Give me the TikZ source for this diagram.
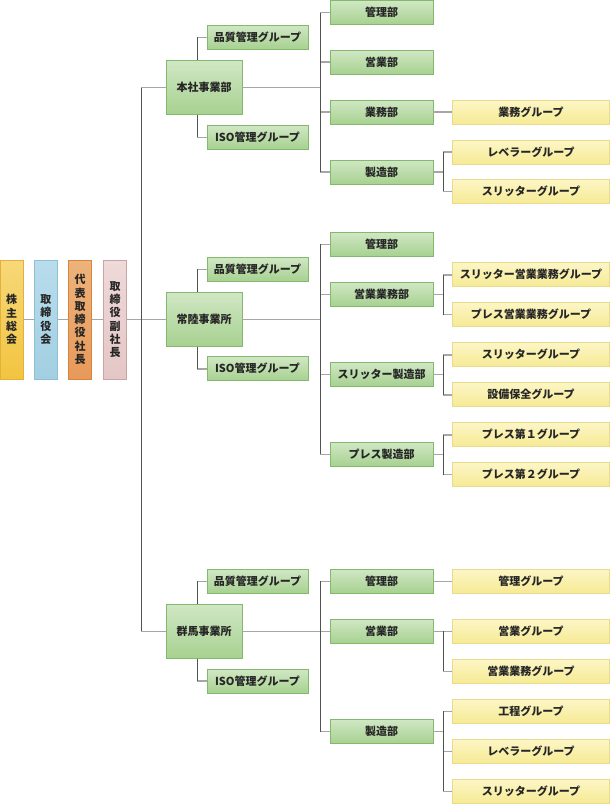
\documentclass[tikz,border=0pt]{standalone}
\usepackage{fontspec}
\setmainfont{Noto Sans CJK JP}
\definecolor{grnTop}{HTML}{D0E7C4}
\definecolor{grnBot}{HTML}{A7D190}
\definecolor{grnEdge}{HTML}{82B96C}
\definecolor{yelTop}{HTML}{FCF6C6}
\definecolor{yelBot}{HTML}{F6EA94}
\definecolor{yelEdge}{HTML}{E8DB8E}
\definecolor{kabuTop}{HTML}{F7D878}
\definecolor{kabuBot}{HTML}{F2C440}
\definecolor{kabuEdge}{HTML}{E3B03A}
\definecolor{torTop}{HTML}{B8DDEC}
\definecolor{torBot}{HTML}{A2CFE2}
\definecolor{torEdge}{HTML}{8DC0D6}
\definecolor{daiTop}{HTML}{EEB37A}
\definecolor{daiBot}{HTML}{E8995A}
\definecolor{daiEdge}{HTML}{D5843E}
\definecolor{fukuTop}{HTML}{EFD9D9}
\definecolor{fukuBot}{HTML}{E4C6C6}
\definecolor{fukuEdge}{HTML}{C9A4A4}
\begin{document}
\begin{tikzpicture}[x=1pt, y=-1pt,
    every node/.style={font=\fontsize{11}{13}\selectfont\bfseries, text=black!85, inner sep=0pt},
    hline/.style={draw=black!35, line width=1.6pt},
    vline/.style={draw=black!68, line width=0.9pt},
    greenbox/.style={draw=grnEdge, line width=0.8pt, top color=grnTop, bottom color=grnBot},
    sitebox/.style={greenbox, minimum width=76pt, minimum height=54pt},
    deptbox/.style={greenbox, minimum width=103pt, minimum height=24pt},
    qabox/.style={greenbox, minimum width=101pt, minimum height=24pt},
    grpbox/.style={draw=yelEdge, line width=0.8pt, top color=yelTop, bottom color=yelBot,
        minimum width=157pt, minimum height=24pt},
    topbox/.style={line width=0.8pt, minimum width=23pt, minimum height=119pt, align=center,
        font=\fontsize{11}{13.3}\selectfont\bfseries}]
    \useasboundingbox (0,0) rectangle (611,804);

    % top management (vertical text)
    \node[topbox, draw=kabuEdge, top color=kabuTop, bottom color=kabuBot] (kabu) at (11.7,319.5) {株\\主\\総\\会};
    \node[topbox, draw=torEdge, top color=torTop, bottom color=torBot] (torishimari) at (45.8,319.5) {取\\締\\役\\会};
    \node[topbox, draw=daiEdge, top color=daiTop, bottom color=daiBot] (daihyo) at (80,319.5) {代\\表\\取\\締\\役\\社\\長};
    \node[topbox, draw=fukuEdge, top color=fukuTop, bottom color=fukuBot] (fuku) at (115,319.5) {取\\締\\役\\副\\社\\長};

    % bus lines
    \coordinate (trunk) at (141,0);
    \coordinate (gbus) at (197,0);
    \coordinate (dbus) at (320,0);
    \coordinate (sbus) at (443,0);

    % 本社事業部
    \node[sitebox] (honsha) at (204,87.5) {本社事業部};
    \node[qabox] (qaA) at (257.5,37.3) {品質管理グループ};
    \node[qabox] (isoA) at (257.5,137.3) {ISO管理グループ};
    \node[deptbox] (kanriA) at (381.5,12.5) {管理部};
    \node[deptbox] (eigyoA) at (381.5,62.2) {営業部};
    \node[deptbox] (gyomuA) at (381.5,112.2) {業務部};
    \node[deptbox] (seizoA) at (381.5,172.2) {製造部};
    \node[grpbox] (gyomuG) at (531,112.2) {業務グループ};
    \node[grpbox] (levelerA) at (531,152) {レベラーグループ};
    \node[grpbox] (slitterA) at (531,191.3) {スリッターグループ};

    % 常陸事業所
    \node[sitebox] (hitachi) at (204,319.5) {常陸事業所};
    \node[qabox] (qaB) at (257.5,269.3) {品質管理グループ};
    \node[qabox] (isoB) at (257.5,368.7) {ISO管理グループ};
    \node[deptbox] (kanriB) at (381.5,244.3) {管理部};
    \node[deptbox] (eigyoB) at (381.5,294.3) {営業業務部};
    \node[deptbox] (slseizoB) at (381.5,374.3) {スリッター製造部};
    \node[deptbox] (prseizoB) at (381.5,454.3) {プレス製造部};
    \node[grpbox] (sleigyoG) at (531,274.7) {スリッター営業業務グループ};
    \node[grpbox] (preigyoG) at (531,314.5) {プレス営業業務グループ};
    \node[grpbox] (slitterB) at (531,354.7) {スリッターグループ};
    \node[grpbox] (setsubiG) at (531,394.7) {設備保全グループ};
    \node[grpbox] (pressOneG) at (531,434.7) {プレス第１グループ};
    \node[grpbox] (pressTwoG) at (531,474.5) {プレス第２グループ};

    % 群馬事業所
    \node[sitebox] (gunma) at (204,631.3) {群馬事業所};
    \node[qabox] (qaC) at (257.5,581.3) {品質管理グループ};
    \node[qabox] (isoC) at (257.5,681.2) {ISO管理グループ};
    \node[deptbox] (kanriC) at (381.5,581.3) {管理部};
    \node[deptbox] (eigyoC) at (381.5,631.3) {営業部};
    \node[deptbox] (seizoC) at (381.5,731.5) {製造部};
    \node[grpbox] (kanriG) at (531,581.3) {管理グループ};
    \node[grpbox] (eigyoG) at (531,631.3) {営業グループ};
    \node[grpbox] (eigyogyomuG) at (531,671.3) {営業業務グループ};
    \node[grpbox] (koteiG) at (531,711.3) {工程グループ};
    \node[grpbox] (levelerC) at (531,751.3) {レベラーグループ};
    \node[grpbox] (slitterC) at (531,791.3) {スリッターグループ};

    % connectors: top management and trunk
    \draw[hline] (kabu.east) -- (torishimari.west);
    \draw[hline] (torishimari.east) -- (daihyo.west);
    \draw[hline] (daihyo.east) -- (fuku.west);
    \draw[hline] (fuku.east) -- (trunk |- fuku.east);
    \foreach \s in {honsha,hitachi,gunma}
        \draw[hline] (trunk |- \s.west) -- (\s.west);
    \draw[vline] (trunk |- honsha.west) -- (trunk |- gunma.west);

    % connectors: sites to QA groups
    \foreach \s/\q/\i in {honsha/qaA/isoA, hitachi/qaB/isoB, gunma/qaC/isoC} {
        \draw[hline] (gbus |- \q.west) -- (\q.west);
        \draw[hline] (gbus |- \i.west) -- (\i.west);
        \draw[vline] (gbus |- \q.west) -- (gbus |- \s.north);
        \draw[vline] (gbus |- \s.south) -- (gbus |- \i.west);
    }

    % connectors: sites to departments
    \draw[hline] (honsha.east) -- (dbus |- honsha.east);
    \draw[hline] (hitachi.east) -- (dbus |- hitachi.east);
    \draw[hline] (gunma.east) -- (eigyoC.west);
    \foreach \d in {kanriA,eigyoA,gyomuA,seizoA,kanriB,eigyoB,slseizoB,prseizoB,kanriC,seizoC}
        \draw[hline] (dbus |- \d.west) -- (\d.west);
    \draw[vline] (dbus |- kanriA.west) -- (dbus |- seizoA.west);
    \draw[vline] (dbus |- kanriB.west) -- (dbus |- prseizoB.west);
    \draw[vline] (dbus |- kanriC.west) -- (dbus |- seizoC.west);

    % connectors: departments to groups
    \draw[hline] (gyomuA.east) -- (gyomuG.west);
    \draw[hline] (kanriC.east) -- (kanriG.west);
    \draw[hline] (eigyoC.east) -- (eigyoG.west);
    \foreach \d in {seizoA,eigyoB,slseizoB,prseizoB,seizoC}
        \draw[hline] (\d.east) -- (sbus |- \d.east);
    \foreach \g in {levelerA,slitterA,sleigyoG,preigyoG,slitterB,setsubiG,pressOneG,pressTwoG,eigyogyomuG,koteiG,levelerC,slitterC}
        \draw[hline] (sbus |- \g.west) -- (\g.west);
    \draw[vline] (sbus |- levelerA.west) -- (sbus |- slitterA.west);
    \draw[vline] (sbus |- sleigyoG.west) -- (sbus |- preigyoG.west);
    \draw[vline] (sbus |- slitterB.west) -- (sbus |- setsubiG.west);
    \draw[vline] (sbus |- pressOneG.west) -- (sbus |- pressTwoG.west);
    \draw[vline] (sbus |- eigyoG.west) -- (sbus |- eigyogyomuG.west);
    \draw[vline] (sbus |- koteiG.west) -- (sbus |- slitterC.west);
\end{tikzpicture}
\end{document}
